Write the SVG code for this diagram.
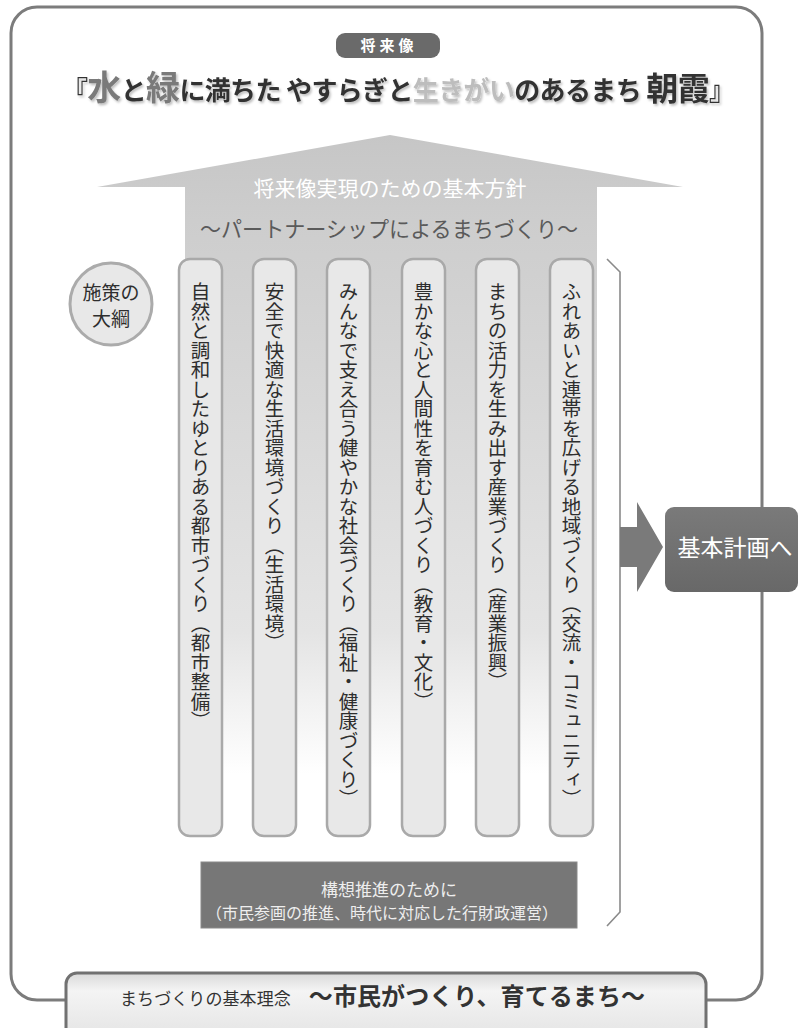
<svg xmlns="http://www.w3.org/2000/svg" width="800" height="1028" viewBox="0 0 800 1028">
<defs>
<linearGradient id="shaft" gradientUnits="userSpaceOnUse" x1="0" y1="135" x2="0" y2="845">
<stop offset="0" stop-color="#c6c6c6"/>
<stop offset="0.12" stop-color="#cdcdcd"/>
<stop offset="0.7" stop-color="#e4e4e4"/>
<stop offset="0.9" stop-color="#ffffff"/>
</linearGradient>
<linearGradient id="banner" x1="0" y1="0" x2="0" y2="1">
<stop offset="0" stop-color="#d9d9d9"/>
<stop offset="0.25" stop-color="#f4f4f4"/>
<stop offset="1" stop-color="#e2e2e2"/>
</linearGradient>
<linearGradient id="darkbox" x1="0" y1="0" x2="0" y2="1">
<stop offset="0" stop-color="#7a7a7a"/>
<stop offset="1" stop-color="#686868"/>
</linearGradient>
<filter id="shadow" x="-5%" y="-20%" width="110%" height="150%">
<feDropShadow dx="1.5" dy="2" stdDeviation="1.2" flood-color="#000" flood-opacity="0.25"/>
</filter>
</defs>
<style>
.jp{font-family:"Noto Sans CJK JP","Noto Sans CJK SC",sans-serif}
.pillar{fill:#e8e8e8;stroke:#a9a9a9;stroke-width:2.5}
.ptext{font-family:"Noto Sans CJK JP",sans-serif;font-size:19.5px;fill:#2e2e2e;writing-mode:vertical-rl}
.conn{fill:none;stroke:#8a8a8a;stroke-width:1.6}
</style>

<g id="frame">
<rect x="11" y="7" width="751" height="993" rx="26" fill="#ffffff" stroke="#7c7c7c" stroke-width="3"/>
</g>

<g id="vision-label">
<rect x="336" y="33" width="104" height="25" rx="9" fill="#6a6a6a"/>
<text x="389" y="51" class="jp" font-size="15" font-weight="700" fill="#ffffff" text-anchor="middle" letter-spacing="4">将来像</text>
</g>

<g id="vision-title" filter="url(#shadow)">
<text x="62" y="100" class="jp" font-weight="700" font-size="26" fill="#333333" textLength="673" lengthAdjust="spacing">『<tspan font-size="34" fill="#7a7a7a">水</tspan>と<tspan font-size="34" fill="#7a7a7a">緑</tspan>に満ちた やすらぎと<tspan fill="#bdbdbd">生きがい</tspan>のあるまち <tspan font-size="32">朝霞</tspan>』</text>
</g>

<g id="basic-policy">
<path d="M97,187 L390,135 L683,187 L597,187 L597,845 L185,845 L185,187 Z" fill="url(#shaft)"/>
<text x="390" y="196" class="jp" font-size="21" fill="#ffffff" text-anchor="middle">将来像実現のための基本方針</text>
<text x="200" y="237" class="jp" font-size="22" fill="#5a5a5a" textLength="378" lengthAdjust="spacingAndGlyphs">～パートナーシップによるまちづくり～</text>
</g>

<g id="outline-label">
<circle cx="111" cy="304" r="41" fill="#e8e8e8" stroke="#ababab" stroke-width="3"/>
<text x="111" y="300" class="jp" font-size="19" fill="#2e2e2e" text-anchor="middle">施策の</text>
<text x="111" y="326" class="jp" font-size="19" fill="#2e2e2e" text-anchor="middle">大綱</text>
</g>

<g id="pillar1">
<rect class="pillar" x="179" y="259" width="43" height="577" rx="11"/>
<text class="ptext" x="200.5" y="282">自然と調和したゆとりある都市づくり（都市整備）</text>
</g>
<g id="pillar2">
<rect class="pillar" x="253" y="259" width="43" height="577" rx="11"/>
<text class="ptext" x="274.5" y="282">安全で快適な生活環境づくり（生活環境）</text>
</g>
<g id="pillar3">
<rect class="pillar" x="327" y="259" width="43" height="577" rx="11"/>
<text class="ptext" x="348.5" y="282">みんなで支え合う健やかな社会づくり（福祉・健康づくり）</text>
</g>
<g id="pillar4">
<rect class="pillar" x="402" y="259" width="43" height="577" rx="11"/>
<text class="ptext" x="423.5" y="282">豊かな心と人間性を育む人づくり（教育・文化）</text>
</g>
<g id="pillar5">
<rect class="pillar" x="476" y="259" width="43" height="577" rx="11"/>
<text class="ptext" x="497.5" y="282">まちの活力を生み出す産業づくり（産業振興）</text>
</g>
<g id="pillar6">
<rect class="pillar" x="550" y="259" width="43" height="577" rx="11"/>
<text class="ptext" x="571.5" y="282">ふれあいと連帯を広げる地域づくり（交流・コミュニティ）</text>
</g>

<g id="promotion">
<rect x="201" y="862" width="376" height="66" fill="#777777" stroke="#8a8a8a" stroke-width="1"/>
<text x="389" y="896" class="jp" font-size="17" fill="#eeeeee" text-anchor="middle">構想推進のために</text>
<text x="382" y="919" class="jp" font-size="16" fill="#eeeeee" text-anchor="middle">（市民参画の推進、時代に対応した行財政運営）</text>
</g>

<g id="connectors">
<path class="conn" d="M607,259 L620,272 L620,912 L607,926"/>
<polygon points="620,527 637,527 637,502 663,547 637,592 637,567 620,567" fill="#7a7a7a"/>
</g>

<g id="basic-plan">
<rect x="665" y="507" width="133" height="85" rx="9" fill="url(#darkbox)"/>
<text x="735" y="556" class="jp" font-size="23" fill="#ffffff" text-anchor="middle">基本計画へ</text>
</g>

<g id="philosophy">
<rect x="66" y="973" width="640" height="72" rx="11" fill="url(#banner)" stroke="#717171" stroke-width="3"/>
<text x="120" y="1005" class="jp" fill="#333333" textLength="525" lengthAdjust="spacing"><tspan font-size="17">まちづくりの基本理念</tspan><tspan font-size="24" font-weight="700" dx="18">～市民がつくり、育てるまち～</tspan></text>
</g>
</svg>
